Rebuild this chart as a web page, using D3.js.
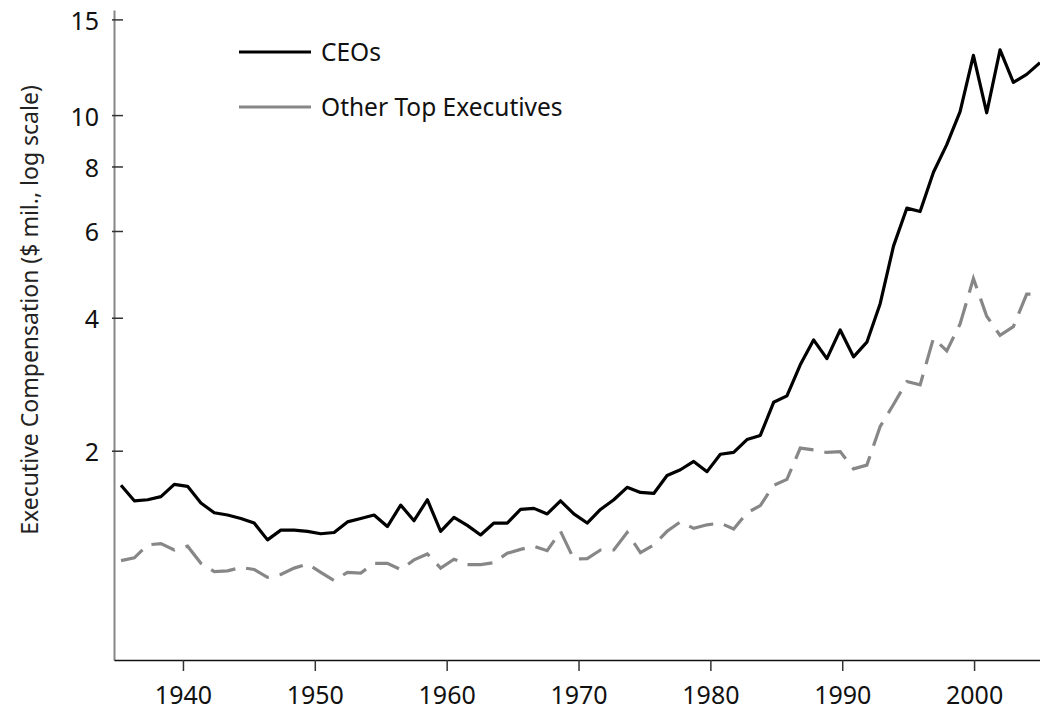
<!DOCTYPE html>
<html>
<head>
<meta charset="utf-8">
<script src="https://cdn.jsdelivr.net/npm/d3@7"></script>
<style>
  body { margin: 0; background: #fff; }
  svg { display: block; font-family: "Noto Sans", sans-serif; }
</style>
</head>
<body>
<svg id="chart" width="1040" height="711"></svg>
<script>
// years 1936..2005
const years = d3.range(1936, 2006);

// median pay, $ millions
const ceoPay = [
  1.63, 1.48, 1.49, 1.52, 1.64, 1.62, 1.46, 1.37, 1.35, 1.32,
  1.28, 1.14, 1.22, 1.22, 1.21, 1.19, 1.20, 1.29, 1.32, 1.35,
  1.25, 1.44, 1.30, 1.49, 1.21, 1.33, 1.26, 1.18, 1.28, 1.28,
  1.40, 1.41, 1.36, 1.48, 1.36, 1.28, 1.40, 1.49, 1.61, 1.56,
  1.55, 1.73, 1.79, 1.88, 1.77, 1.96, 1.98, 2.13, 2.18, 2.61,
  2.70, 3.17, 3.59, 3.27, 3.77, 3.30, 3.55, 4.28, 5.60, 6.65,
  6.55, 7.80, 8.80, 10.15, 12.9, 10.1, 13.2, 11.5, 11.9, 12.5
];
const otherPay = [
  0.98, 1.00, 1.10, 1.11, 1.06, 1.09, 0.96, 0.90, 0.905, 0.93,
  0.915, 0.86, 0.88, 0.925, 0.955, 0.895, 0.837, 0.895, 0.89, 0.96,
  0.96, 0.915, 0.985, 1.03, 0.925, 0.99, 0.95, 0.95, 0.965, 1.035,
  1.065, 1.09, 1.055, 1.21, 0.99, 0.995, 1.06, 1.06, 1.20, 1.04,
  1.10, 1.21, 1.29, 1.235, 1.265, 1.28, 1.23, 1.37, 1.435, 1.63,
  1.69, 2.03, 2.01, 1.98, 1.99, 1.80, 1.84, 2.29, 2.58, 2.91,
  2.86, 3.62, 3.40, 3.88, 4.82, 4.03, 3.67, 3.83, 4.48, 4.48
];

const yTicks = [2, 4, 6, 8, 10, 15];
const xTicks = [1940, 1950, 1960, 1970, 1980, 1990, 2000];
const seriesNames = ["CEOs", "Other Top Executives"];

const svg = d3.select("#chart");

// scales
const x = d3.scaleLinear().domain([1936, 2005]).range([121, 1040]);
const xAxisScale = d3.scaleLinear().domain([1934.77, 2005]).range([114, 1040]);
const y = d3.scaleSymlog().constant(0.9).domain([0.37, 15.6]).range([660, 10]);

// y axis
const yAxis = svg.append("g")
  .attr("transform", "translate(114,0)")
  .call(d3.axisLeft(y).tickValues(yTicks).tickFormat(d3.format("d"))
    .tickSizeInner(-9).tickSizeOuter(0).tickPadding(15));
yAxis.select(".domain").attr("stroke", "#868686").attr("stroke-width", 2);
yAxis.selectAll(".tick line").attr("stroke", "#333").attr("stroke-width", 1.5)
  .attr("x1", -2);
yAxis.selectAll(".tick text").attr("font-size", 25).attr("fill", "#111")
  .attr("font-family", "Noto Sans").attr("dy", "0.4em");

// x axis
const xAxis = svg.append("g")
  .attr("transform", "translate(0,660)")
  .call(d3.axisBottom(xAxisScale).tickValues(xTicks).tickFormat(d3.format("d"))
    .tickSizeInner(11).tickSizeOuter(0).tickPadding(15));
xAxis.select(".domain").attr("stroke", "#111").attr("stroke-width", 1.5);
xAxis.selectAll(".tick line").attr("stroke", "#333").attr("stroke-width", 1.5);
xAxis.selectAll(".tick text").attr("font-size", 25).attr("fill", "#111")
  .attr("font-family", "Noto Sans");

// y axis title
svg.append("text")
  .attr("transform", "translate(38,310) rotate(-90)")
  .attr("text-anchor", "middle")
  .attr("font-size", 23)
  .attr("fill", "#222")
  .text("Executive Compensation ($ mil., log scale)");

// lines
const line = d3.line()
  .x((d, i) => x(years[i]))
  .y(d => y(d));

svg.append("path")
  .datum(otherPay)
  .attr("fill", "none")
  .attr("stroke", "#878787")
  .attr("stroke-width", 3.2)
  .attr("stroke-dasharray", "25 11")
  .attr("d", line);

svg.append("path")
  .datum(ceoPay)
  .attr("fill", "none")
  .attr("stroke", "#000")
  .attr("stroke-width", 3.2)
  .attr("stroke-linejoin", "round")
  .attr("d", line);

// legend
const legend = svg.append("g");
const legendY = [52, 107];
const legendColors = ["#000", "#878787"];
seriesNames.forEach((name, i) => {
  legend.append("line")
    .attr("x1", 239).attr("x2", 311)
    .attr("y1", legendY[i]).attr("y2", legendY[i])
    .attr("stroke", legendColors[i])
    .attr("stroke-width", 3.2);
  legend.append("text")
    .attr("x", 321).attr("y", legendY[i])
    .attr("dy", "0.35em")
    .attr("font-size", 24.5)
    .attr("fill", "#111")
    .text(name);
});
</script>
</body>
</html>
